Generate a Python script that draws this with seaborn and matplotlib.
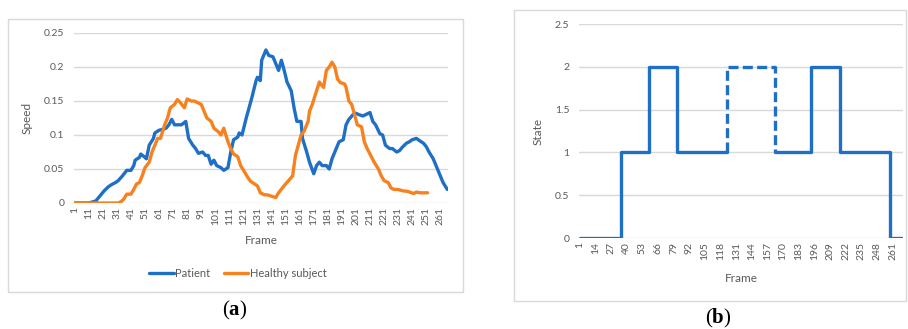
import matplotlib
matplotlib.use("Agg")
import matplotlib.pyplot as plt
import seaborn as sns
import pandas as pd
from matplotlib.patches import Rectangle

# ---------------- data ----------------
patient_frames = [1, 11, 16, 18, 22, 25, 28, 30, 32, 35, 38, 41, 43, 44, 47, 48, 51, 52, 54, 57, 58,
                  61, 63, 66, 68, 70, 72, 74, 77, 80, 82, 85, 87, 89, 92, 94, 96, 98, 100, 102, 105,
                  107, 110, 112, 114, 117, 118, 120, 123, 125, 127, 130, 131, 133, 134, 137, 139, 142,
                  144, 146, 148, 150, 152, 155, 157, 159, 162, 163, 166, 168, 171, 173, 175, 177, 180,
                  182, 184, 187, 189, 192, 194, 196, 199, 201, 203, 206, 208, 211, 213, 215, 218, 220,
                  222, 225, 227, 230, 232, 234, 237, 239, 241, 244, 246, 249, 251, 253, 256, 258, 260,
                  263, 266]
patient_speed = [0.0, 0.0, 0.003, 0.008, 0.018, 0.024, 0.028, 0.030, 0.033, 0.040, 0.048, 0.048, 0.055,
                 0.063, 0.067, 0.072, 0.067, 0.065, 0.085, 0.095, 0.103, 0.107, 0.108, 0.110, 0.115,
                 0.123, 0.115, 0.115, 0.115, 0.120, 0.095, 0.085, 0.080, 0.073, 0.075, 0.070, 0.070,
                 0.057, 0.063, 0.055, 0.052, 0.048, 0.052, 0.075, 0.093, 0.097, 0.103, 0.100, 0.125,
                 0.140, 0.155, 0.180, 0.185, 0.180, 0.210, 0.225, 0.217, 0.215, 0.205, 0.195, 0.210,
                 0.195, 0.178, 0.165, 0.140, 0.120, 0.120, 0.095, 0.075, 0.060, 0.043, 0.055, 0.060,
                 0.055, 0.055, 0.050, 0.065, 0.080, 0.090, 0.093, 0.115, 0.123, 0.130, 0.132, 0.130,
                 0.128, 0.130, 0.133, 0.120, 0.115, 0.102, 0.100, 0.085, 0.080, 0.080, 0.075, 0.077,
                 0.082, 0.088, 0.090, 0.093, 0.095, 0.092, 0.088, 0.083, 0.075, 0.065, 0.055, 0.045,
                 0.030, 0.020]

healthy_frames = [1, 32, 34, 36, 38, 41, 43, 45, 47, 49, 51, 54, 56, 59, 60, 62, 65, 67, 69, 72, 74,
                  76, 79, 81, 84, 86, 88, 91, 93, 95, 98, 100, 103, 105, 107, 110, 112, 114, 117, 119,
                  122, 124, 126, 129, 131, 133, 136, 138, 141, 144, 146, 149, 151, 154, 156, 158, 160,
                  162, 164, 167, 168, 170, 173, 175, 176, 178, 180, 182, 184, 186, 188, 190, 193, 194,
                  196, 198, 200, 202, 205, 207, 209, 212, 214, 217, 219, 221, 224, 226, 228, 231, 234,
                  238, 242, 244, 247, 252]
healthy_speed = [0.0, 0.0, 0.002, 0.006, 0.013, 0.013, 0.020, 0.028, 0.030, 0.040, 0.052, 0.060, 0.075,
                 0.090, 0.095, 0.095, 0.115, 0.125, 0.140, 0.145, 0.152, 0.148, 0.140, 0.153, 0.150,
                 0.150, 0.148, 0.145, 0.135, 0.125, 0.120, 0.110, 0.105, 0.100, 0.110, 0.090, 0.080,
                 0.072, 0.068, 0.055, 0.045, 0.038, 0.032, 0.028, 0.025, 0.015, 0.012, 0.012, 0.010,
                 0.008, 0.015, 0.023, 0.028, 0.035, 0.040, 0.070, 0.085, 0.100, 0.105, 0.120, 0.135,
                 0.145, 0.165, 0.178, 0.175, 0.170, 0.195, 0.200, 0.207, 0.200, 0.182, 0.177, 0.175,
                 0.170, 0.150, 0.145, 0.130, 0.115, 0.112, 0.090, 0.080, 0.068, 0.060, 0.050, 0.040,
                 0.033, 0.030, 0.022, 0.020, 0.020, 0.018, 0.017, 0.014, 0.016, 0.015, 0.015]

# state change points (steps-post); three pieces, the middle one dashed
state_frames_a = [1, 35, 59, 82, 123]
state_values_a = [0, 1, 2, 1, 1]
state_frames_dash = [123, 123, 163, 163]
state_values_dash = [1, 2, 2, 1]
state_frames_b = [163, 193, 217, 259, 269]
state_values_b = [1, 2, 1, 0, 0]

speed_xticks = list(range(1, 262, 10))
state_xticks = list(range(1, 262, 13))
speed_yticks = [0, 0.05, 0.1, 0.15, 0.2, 0.25]
speed_ylabels = ["0", "0.05", "0.1", "0.15", "0.2", "0.25"]
state_yticks = [0, 0.5, 1, 1.5, 2, 2.5]
state_ylabels = ["0", "0.5", "1", "1.5", "2", "2.5"]

# ---------------- style ----------------
sns.set_theme(style="white")
plt.rcParams['font.family'] = ['Lato', 'DejaVu Sans']
plt.rcParams['mathtext.fontset'] = 'custom'
plt.rcParams['mathtext.rm'] = 'Liberation Serif'
plt.rcParams['mathtext.bf'] = 'Liberation Serif:bold'

BLUE = "#1f6fc6"
ORANGE = "#f7811f"
GRID = "#d9d9d9"
TXT = "#595959"

W, H = 908, 329
fig = plt.figure(figsize=(W / 100, H / 100), dpi=100)

def px_axes(x0, y0, x1, y1):
    return fig.add_axes([x0 / W, 1 - y1 / H, (x1 - x0) / W, (y1 - y0) / H])

# panel borders
fig.patches.append(Rectangle((8 / W, 1 - 292 / H), (463 - 8) / W, (292 - 19) / H,
                             transform=fig.transFigure, fill=False, edgecolor=GRID, lw=1))
fig.patches.append(Rectangle((514 / W, 1 - 301 / H), (906 - 514) / W, (301 - 10) / H,
                             transform=fig.transFigure, fill=False, edgecolor=GRID, lw=1))

def style_axes(ax, xticks, yticks, ylabels, ylim, xlim):
    ax.set_xlim(*xlim)
    ax.set_ylim(*ylim)
    ax.set_yticks(yticks)
    ax.set_yticklabels(ylabels)
    ax.set_xticks(xticks)
    ax.set_xticklabels([str(t) for t in xticks], rotation=90)
    ax.tick_params(axis='both', length=0, labelsize=7.5, colors=TXT)
    ax.tick_params(axis='x', pad=3)
    ax.tick_params(axis='y', pad=7)
    ax.yaxis.grid(True, color=GRID, lw=1)
    ax.xaxis.grid(False)
    for s in ax.spines.values():
        s.set_visible(False)
    ax.set_facecolor("none")

# ---------------- panel (a) ----------------
axa = px_axes(74, 33, 448, 203)
dfp = pd.DataFrame({"Frame": patient_frames, "Speed": patient_speed})
dfh = pd.DataFrame({"Frame": healthy_frames, "Speed": healthy_speed})
sns.lineplot(data=dfp, x="Frame", y="Speed", ax=axa, color=BLUE, lw=2.4, label="Patient",
             estimator=None, sort=False)
sns.lineplot(data=dfh, x="Frame", y="Speed", ax=axa, color=ORANGE, lw=2.4, label="Healthy subject",
             estimator=None, sort=False)
style_axes(axa, speed_xticks, speed_yticks, speed_ylabels, (0, 0.25), (0.5, 266.5))
axa.set_xlabel("Frame", fontsize=8.5, color=TXT, labelpad=7)
axa.set_ylabel("Speed", fontsize=8.5, color=TXT, labelpad=8)
leg = axa.legend(loc="center", bbox_to_anchor=(164 / 374, -0.415), ncol=2, frameon=False,
                 fontsize=8, handlelength=2.2, handletextpad=0.15, columnspacing=1.2)
for t in leg.get_texts():
    t.set_color(TXT)

# ---------------- panel (b) ----------------
axb = px_axes(579, 24, 903, 238)
sns.lineplot(x=state_frames_a, y=state_values_a, ax=axb, color=BLUE, lw=2.4,
             drawstyle="steps-post", estimator=None, sort=False)
sns.lineplot(x=state_frames_dash, y=state_values_dash, ax=axb, color=BLUE, lw=2.4,
             drawstyle="steps-post", estimator=None, sort=False, linestyle=(0, (3, 1.3)))
sns.lineplot(x=state_frames_b, y=state_values_b, ax=axb, color=BLUE, lw=2.4,
             drawstyle="steps-post", estimator=None, sort=False)
style_axes(axb, state_xticks, state_yticks, state_ylabels, (0, 2.5), (0.5, 269.5))
axb.set_xlabel("Frame", fontsize=8.5, color=TXT, labelpad=9)
axb.set_ylabel("State", fontsize=8.5, color=TXT, labelpad=8)

# ---------------- panel letters ----------------
for x, y, letter in [(235, 310, "a"), (718, 318, "b")]:
    fig.text(x / W, 1 - y / H, r"$\mathrm{(}\mathbf{" + letter + r"}\mathrm{)}$", ha="center",
             va="center", fontsize=15, color="black")

fig.savefig("out.png", dpi=100)
